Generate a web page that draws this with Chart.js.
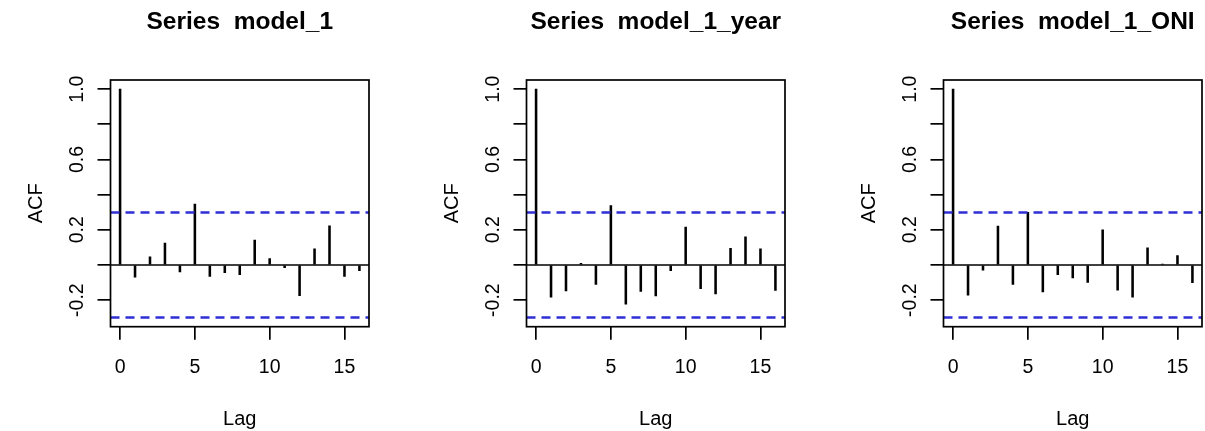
<!DOCTYPE html>
<html>
<head>
<meta charset="utf-8">
<script src="https://cdn.jsdelivr.net/npm/chart.js@4.4.1/dist/chart.umd.min.js"></script>
<style>
  html, body { margin: 0; padding: 0; background: #fff; overflow: hidden; }
  body { width: 1205px; height: 431px; position: relative; }
  canvas { position: absolute; top: 0; }
</style>
</head>
<body>
<canvas id="c1" width="416" height="431" style="left:0px"></canvas>
<canvas id="c2" width="416" height="431" style="left:416px"></canvas>
<canvas id="c3" width="372" height="431" style="left:833px"></canvas>
<script>
// ---- data ----
const lags = [0, 1, 2, 3, 4, 5, 6, 7, 8, 9, 10, 11, 12, 13, 14, 15, 16];
const acfModel1     = [1.0, -0.069, 0.046, 0.124, -0.040, 0.347, -0.065, -0.044, -0.055, 0.141, 0.036, -0.015, -0.174, 0.092, 0.223, -0.065, -0.032];
const acfModel1Year = [1.0, -0.183, -0.147, 0.010, -0.111, 0.338, -0.223, -0.151, -0.176, -0.032, 0.216, -0.135, -0.164, 0.095, 0.160, 0.092, -0.145];
const acfModel1ONI  = [1.0, -0.172, -0.029, 0.221, -0.111, 0.300, -0.153, -0.055, -0.074, -0.099, 0.200, -0.143, -0.183, 0.097, 0.005, 0.053, -0.101];
const panelTitles = ['Series  model_1', 'Series  model_1_year', 'Series  model_1_ONI'];
const yTickLabels = ['-0.2', '0.2', '0.6', '1.0'];
const xTickLabels = ['0', '5', '10', '15'];
const confLimit = 0.299;
const xRange = [-0.64, 16.64];
const yRange = [-0.351, 1.052];
const xLabel = 'Lag';
const yLabel = 'ACF';

// ---- styling ----
const FONT = "'Liberation Sans', Arial, Helvetica, sans-serif";
Chart.defaults.color = '#000';
Chart.defaults.font.family = FONT;

const boxPlugin = {
  id: 'box',
  afterDraw(chart) {
    const a = chart.chartArea, ctx = chart.ctx;
    ctx.save();
    ctx.strokeStyle = '#000';
    ctx.lineWidth = 1.7;
    ctx.strokeRect(a.left, a.top, a.right - a.left, a.bottom - a.top);
    ctx.restore();
  }
};

function makePanel(id, title, acf, rightPad) {
  const spikes = lags.map((l, i) => ({ x: l, y: acf[i] }));
  const upper = xRange.map(x => ({ x: x, y: confLimit }));
  const lower = xRange.map(x => ({ x: x, y: -confLimit }));
  const zero = xRange.map(x => ({ x: x, y: 0 }));
  new Chart(document.getElementById(id), {
    type: 'bar',
    data: {
      datasets: [
        { type: 'line', data: zero, borderColor: '#000', borderWidth: 1.7, pointRadius: 0, order: 1 },
        { type: 'line', data: upper, borderColor: '#2f2fd8', borderWidth: 2.5, borderDash: [9, 6], pointRadius: 0, order: 0 },
        { type: 'line', data: lower, borderColor: '#2f2fd8', borderWidth: 2.5, borderDash: [9, 6], pointRadius: 0, order: 0 },
        { type: 'bar', data: spikes, backgroundColor: '#000', barThickness: 1.9, order: 2 }
      ]
    },
    options: {
      responsive: false,
      animation: false,
      layout: { padding: { left: 0, right: rightPad, top: 0, bottom: 0 } },
      plugins: {
        legend: { display: false },
        tooltip: { enabled: false },
        title: {
          display: true, text: title, fullSize: false,
          font: { family: FONT, size: 24.5, weight: 'bold', lineHeight: 1.2 },
          color: '#000',
          padding: { top: 7.8, bottom: 42.8 }
        }
      },
      scales: {
        x: {
          type: 'linear', min: xRange[0], max: xRange[1], offset: false,
          grid: { offset: false, drawOnChartArea: false, drawTicks: true, tickLength: 13, color: '#000', lineWidth: 1.7 },
          border: { display: false },
          ticks: {
            stepSize: 5, includeBounds: false, autoSkip: false, maxRotation: 0,
            padding: 16, font: { family: FONT, size: 19.5 }, color: '#000',
            callback: (v) => { const s = String(Math.round(v)); return xTickLabels.includes(s) ? s : ''; }
          },
          title: { display: true, text: xLabel, font: { family: FONT, size: 20, lineHeight: 1.2 }, color: '#000', padding: { top: 0, bottom: 0 } },
          afterFit: (s) => { s.height = 104.3; }
        },
        y: {
          type: 'linear', min: yRange[0], max: yRange[1],
          grid: { drawOnChartArea: false, drawTicks: true, tickLength: 13, color: '#000', lineWidth: 1.7 },
          border: { display: false },
          ticks: {
            stepSize: 0.2, includeBounds: false, autoSkip: false,
            minRotation: 90, maxRotation: 90, crossAlign: 'center',
            padding: 3.5, font: { family: FONT, size: 19.5 }, color: '#000',
            callback: (v) => { const s = (Math.round(v * 10) / 10).toFixed(1); return yTickLabels.includes(s) ? s : ''; }
          },
          title: { display: true, text: yLabel, font: { family: FONT, size: 20, lineHeight: 1.2 }, color: '#000', padding: { top: 24, bottom: 0 } },
          afterFit: (s) => { s.width = 110.5; }
        }
      }
    },
    plugins: [boxPlugin]
  });
}

makePanel('c1', panelTitles[0], acfModel1, 47);
makePanel('c2', panelTitles[1], acfModel1Year, 47);
makePanel('c3', panelTitles[2], acfModel1ONI, 3);
</script>
</body>
</html>
